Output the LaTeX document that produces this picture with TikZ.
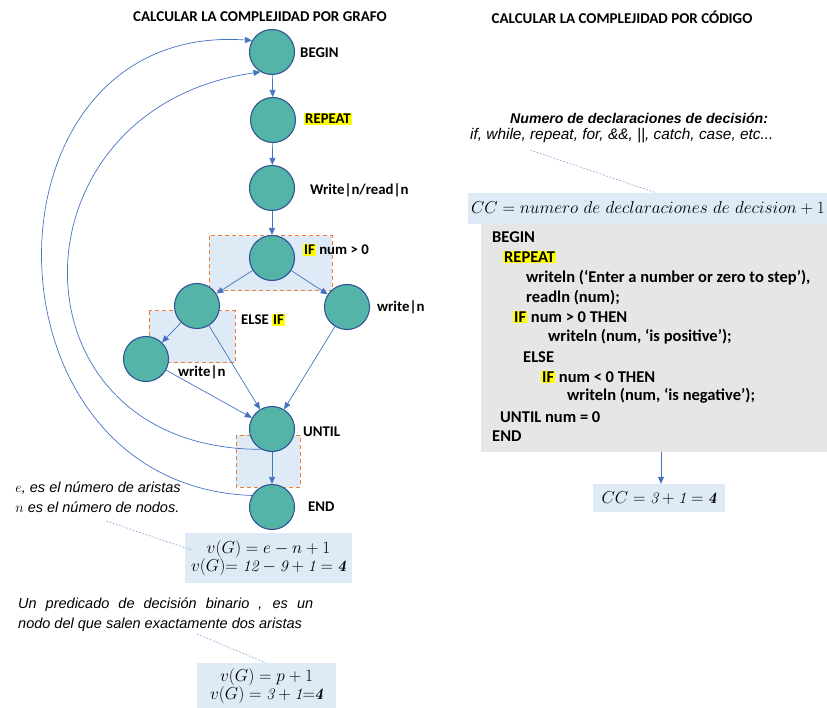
\documentclass[tikz,border=0pt]{standalone}
\usepackage{amsmath, fontspec}
\usetikzlibrary{arrows.meta, calc}
\newfontfamily\calibri{Carlito}
\newfontfamily\arial{Liberation Sans}
\definecolor{verde}{RGB}{84,180,168}
\definecolor{borde}{RGB}{47,85,151}
\definecolor{azul}{RGB}{68,114,196}
\definecolor{caja}{RGB}{222,235,247}
\definecolor{gris}{RGB}{231,230,230}
\definecolor{naranja}{RGB}{237,125,49}
\definecolor{azulclaro}{RGB}{143,170,220}
\definecolor{amarillo}{RGB}{255,255,0}
\newcommand{\resaltar}[1]{{\setlength{\fboxsep}{1pt}\colorbox{amarillo}{#1}}}
\tikzset{>={Triangle[length=7pt,width=6pt]}}
\tikzset{
  nodo/.style={circle, draw=borde, line width=1.1pt, fill=verde, minimum size=45pt, inner sep=0pt},
  etiqueta/.style={anchor=west, inner sep=0pt, font=\calibri\bfseries\fontsize{14.8}{16}\selectfont},
  codigo/.style={anchor=west, inner sep=0pt, font=\calibri\bfseries\fontsize{16.5}{18}\selectfont},
  flecha/.style={->, azul, line width=0.7pt},
  zona/.style={draw=naranja, line width=1pt, dash pattern=on 4pt off 3pt, fill=caja},
  formula/.style={fill=caja, inner sep=0pt, align=center, font=\fontsize{16}{20}\selectfont},
  nota/.style={inner sep=0pt, font=\arial\itshape\fontsize{14.5}{20}\selectfont},
  guia/.style={draw=azulclaro, line width=0.6pt, dash pattern=on 2pt off 1.5pt}
}

\begin{document}
\begin{tikzpicture}[x=1pt, y=1pt]
    \useasboundingbox (0,0) rectangle (827,-708);

    % titulos
    \node[inner sep=0pt, font=\calibri\bfseries\fontsize{15}{16}\selectfont] (titulo1) at (260,-17) {CALCULAR LA COMPLEJIDAD POR GRAFO};
    \node[inner sep=0pt, font=\calibri\bfseries\fontsize{15}{16}\selectfont] (titulo2) at (622,-17) {CALCULAR LA COMPLEJIDAD POR CÓDIGO};

    % zonas de los predicados
    \draw[zona] (209,-236) rectangle (332,-291);
    \draw[zona] (149,-311) rectangle (235,-363);
    \draw[zona] (236,-435) rectangle (300,-487);

    % grafo
    \node[nodo] (inicio) at (272,-52) {};
    \node[nodo] (repetir) at (273,-120) {};
    \node[nodo] (leer) at (272,-188) {};
    \node[nodo] (si) at (272,-258) {};
    \node[nodo] (sino) at (197,-306) {};
    \node[nodo] (escder) at (347,-307) {};
    \node[nodo] (escizq) at (146,-359) {};
    \node[nodo] (hasta) at (272,-429) {};
    \node[nodo] (fin) at (272,-507) {};

    \node[etiqueta] (lbinicio) at (300,-53) {BEGIN};
    \node[etiqueta] (lbrepetir) at (304,-119) {\resaltar{REPEAT}};
    \node[etiqueta] (lbleer) at (310,-190) {Write|n/read|n};
    \node[etiqueta] (lbsi) at (303,-250) {\resaltar{IF} num > 0};
    \node[etiqueta] (lbsino) at (241,-320) {ELSE \resaltar{IF}};
    \node[etiqueta] (lbescder) at (377,-307) {write|n};
    \node[etiqueta] (lbescizq) at (178,-372) {write|n};
    \node[etiqueta] (lbhasta) at (303,-432) {UNTIL};
    \node[etiqueta] (lbfin) at (308,-507) {END};

    \draw[flecha] (inicio) -- (repetir);
    \draw[flecha] (repetir) -- (leer);
    \draw[flecha] (leer) -- (si);
    \draw[flecha] (si) -- (sino);
    \draw[flecha] (si) -- (escder);
    \draw[flecha] (sino) -- (escizq);
    \draw[flecha] (sino) -- (hasta);
    \draw[flecha] (escizq) -- (hasta);
    \draw[flecha] (escder) -- (hasta);
    \draw[flecha] (hasta) -- (fin);
    \draw[flecha] (hasta.242) to[out=180, in=188, distance=258pt] (inicio.240);
    \draw[flecha] (fin.150) to[out=178, in=176, distance=280pt] (inicio.150);

    % formulas del grafo
    \node[nota, align=left] (aristas) at (98,-497) {$e$, es el número de aristas\\$n$ es el número de nodos.};
    \node[formula, minimum width=167pt, minimum height=50pt] (vg1) at (268.5,-558) {$v(G) = e - n + 1$\\[-2pt]$v(G){=}\ \mathit{12} - \mathit{9} + \mathit{1} = \boldsymbol{\mathit{4}}$};
    \coordinate (g1) at (106,-521);
    \draw[guia] (g1) -- ($(vg1.west)+(7,8)$);

    \node[nota, text width=295pt, align=justify, anchor=north west] (predicado) at (18,-598) {Un predicado de decisión binario , es un\linebreak nodo del que salen exactamente dos aristas};
    \node[formula, minimum width=139pt, minimum height=46pt] (vg2) at (266.5,-686) {$v(G) = p + 1$\\[-2pt]$v(G) = \mathit{3} + \mathit{1} {=} \boldsymbol{\mathit{4}}$};
    \coordinate (g2) at (197,-634);
    \draw[guia] (g2) -- ($(vg2.north)+(-1,0)$);

    % por codigo
    \node[nota, anchor=west, font=\arial\bfseries\itshape\fontsize{14.1}{16}\selectfont] (decl) at (510,-118) {Numero de declaraciones de decisión:};
    \node[nota, anchor=west, font=\arial\itshape\fontsize{15.4}{16}\selectfont] (lista) at (470,-136) {if, while, repeat, for, \&\&, ||, catch, case, etc...};
    \node[formula, minimum width=360pt, minimum height=31pt, font=\fontsize{17.6}{20}\selectfont] (cc) at (648,-208.5) {$CC = numero\ de\ declaraciones\ de\ decision + 1$};
    \coordinate (g3) at (530,-150);
    \draw[guia] (g3) -- ($(cc.north)+(8,0)$);

    \node[fill=gris, minimum width=346pt, minimum height=228pt, inner sep=0pt] (programa) at (654,-338) {};
    \node[codigo] (c1) at (492,-237) {BEGIN};
    \node[codigo] (c2) at (503,-257) {\resaltar{REPEAT}};
    \node[codigo] (c3) at (526,-278) {writeln (‘Enter a number or zero to step’),};
    \node[codigo] (c4) at (526,-298) {readln (num);};
    \node[codigo] (c5) at (513,-317) {\resaltar{IF} num > 0 THEN};
    \node[codigo] (c6) at (548,-337) {writeln (num, ‘is positive’);};
    \node[codigo] (c7) at (523,-357) {ELSE};
    \node[codigo] (c8) at (541,-377) {\resaltar{IF} num < 0 THEN};
    \node[codigo] (c9) at (567,-396) {writeln (num, ‘is negative’);};
    \node[codigo] (c10) at (500,-417) {UNTIL num = 0};
    \node[codigo] (c11) at (492,-436) {END};

    \node[formula, minimum width=132pt, minimum height=28pt] (resultado) at (659,-498) {$CC = \mathit{3} + \mathit{1} = \boldsymbol{\mathit{4}}$};
    \coordinate (salida) at (661,-452);
    \draw[flecha] (salida) -- (salida |- resultado.north);
\end{tikzpicture}
\end{document}
